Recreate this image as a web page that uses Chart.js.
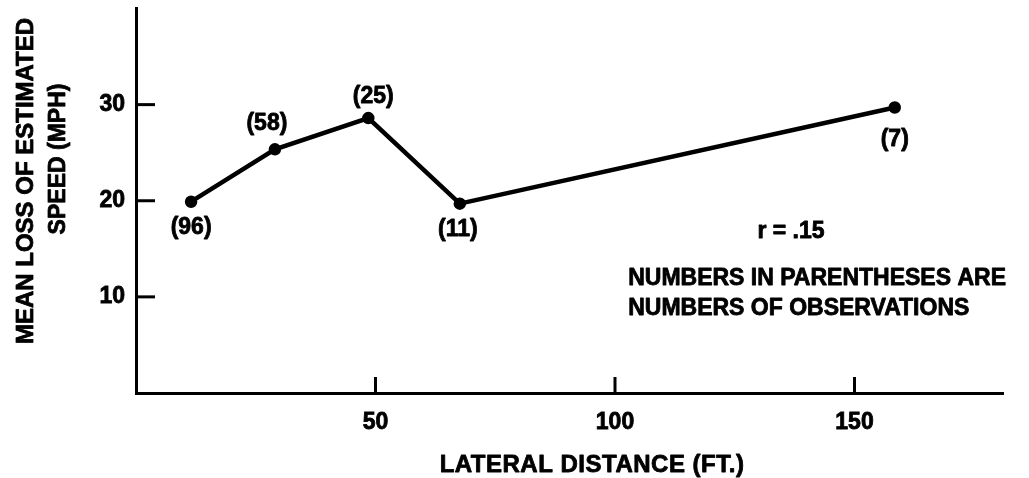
<!DOCTYPE html>
<html>
<head>
<meta charset="utf-8">
<script src="https://cdn.jsdelivr.net/npm/chart.js@4/dist/chart.umd.min.js"></script>
<style>
  html, body { margin: 0; padding: 0; background: #fff; }
  #wrap { width: 1029px; height: 478px; position: relative; }
</style>
</head>
<body>
<div id="wrap"><canvas id="c" width="1029" height="478"></canvas></div>
<script>
// Lateral distance (ft.) of each observation group
const lateralDistance = [11.5, 29, 48.5, 67.6, 158.4];
// Mean loss of estimated speed (mph)
const meanSpeedLoss = [19.9, 25.35, 28.6, 19.7, 29.7];
// Number of observations behind each mean
const obsCounts = [96, 58, 25, 11, 7];
// Axis tick values
const xTickValues = [50, 100, 150];
const yTickValues = [10, 20, 30];

const FONT = '"Liberation Sans", Arial, Helvetica, sans-serif';
const INK = '#000';
const TEXT_STROKE = 0.8;

// where each "(n)" label sits relative to its point
const labelPlacement = [
  { dx: 0, dy: 26 },
  { dx: -8, dy: -26 },
  { dx: 5, dy: -21 },
  { dx: -2, dy: 26 },
  { dx: 0, dy: 32 }
];

// filled text with a thin outline for a heavier weight
function heavyText(ctx, str, x, y) {
  ctx.fillText(str, x, y);
  ctx.lineWidth = TEXT_STROKE;
  ctx.strokeText(str, x, y);
}

const annotate = {
  id: 'annotate',
  afterDraw(chart) {
    const ctx = chart.ctx;
    const xs = chart.scales.x, ys = chart.scales.y;
    const area = chart.chartArea;
    ctx.save();
    ctx.strokeStyle = INK;
    ctx.fillStyle = INK;
    ctx.lineJoin = 'round';

    // inward tick marks
    ctx.lineWidth = 3;
    yTickValues.forEach(v => {
      const py = ys.getPixelForValue(v);
      ctx.beginPath();
      ctx.moveTo(area.left, py);
      ctx.lineTo(area.left + 19, py);
      ctx.stroke();
    });
    xTickValues.forEach(v => {
      const px = xs.getPixelForValue(v);
      ctx.beginPath();
      ctx.moveTo(px, area.bottom);
      ctx.lineTo(px, area.bottom - 16);
      ctx.stroke();
    });

    // observation counts
    ctx.font = 'bold 23px ' + FONT;
    ctx.textAlign = 'center';
    ctx.textBaseline = 'middle';
    const pts = chart.getDatasetMeta(0).data;
    pts.forEach((p, i) => {
      const pl = labelPlacement[i];
      heavyText(ctx, '(' + obsCounts[i] + ')', p.x + pl.dx, p.y + pl.dy);
    });

    // correlation and note
    heavyText(ctx, 'r = .15', 791, 232);
    const note1 = 'NUMBERS IN PARENTHESES ARE';
    const note2 = 'NUMBERS OF OBSERVATIONS';
    const noteLeft = 1006 - ctx.measureText(note1).width;
    ctx.textAlign = 'left';
    heavyText(ctx, note1, noteLeft, 279);
    heavyText(ctx, note2, noteLeft, 309);

    // axis titles
    ctx.font = 'bold 24px ' + FONT;
    ctx.textAlign = 'center';
    ctx.letterSpacing = '0.5px';
    heavyText(ctx, 'LATERAL DISTANCE (FT.)', 592, 465);
    ctx.letterSpacing = '0px';
    ctx.save();
    ctx.translate(26, 181);
    ctx.rotate(-Math.PI / 2);
    heavyText(ctx, 'MEAN LOSS OF ESTIMATED', 0, 0);
    ctx.restore();
    ctx.save();
    ctx.font = 'bold 23px ' + FONT;
    ctx.translate(59, 159);
    ctx.rotate(-Math.PI / 2);
    heavyText(ctx, 'SPEED (MPH)', 0, 0);
    ctx.restore();

    ctx.restore();
  }
};

new Chart(document.getElementById('c'), {
  type: 'scatter',
  data: {
    datasets: [{
      data: lateralDistance.map((x, i) => ({ x, y: meanSpeedLoss[i] })),
      showLine: true,
      borderColor: INK,
      backgroundColor: INK,
      borderWidth: 4.5,
      pointRadius: 4,
      pointHoverRadius: 4,
      tension: 0
    }]
  },
  options: {
    responsive: false,
    animation: false,
    devicePixelRatio: 1,
    layout: { padding: { top: 8, right: 26, left: 0, bottom: 0 } },
    plugins: { legend: { display: false }, tooltip: { enabled: false } },
    scales: {
      x: {
        type: 'linear',
        min: 0,
        max: 181,
        afterBuildTicks: s => { s.ticks = xTickValues.map(v => ({ value: v })); },
        afterFit: s => { s.height = 85; s.paddingLeft = 0; s.paddingRight = 0; },
        grid: { display: false, drawTicks: false },
        border: { display: true, color: INK, width: 3 },
        ticks: {
          color: INK,
          padding: 16,
          textStrokeColor: INK,
          textStrokeWidth: TEXT_STROKE,
          font: { family: FONT, size: 23, weight: 'bold' }
        }
      },
      y: {
        type: 'linear',
        min: 0,
        max: 40,
        afterBuildTicks: s => { s.ticks = yTickValues.map(v => ({ value: v })); },
        afterFit: s => { s.width = 136; s.paddingTop = 0; s.paddingBottom = 0; },
        grid: { display: false, drawTicks: false },
        border: { display: true, color: INK, width: 3 },
        ticks: {
          color: INK,
          padding: 11,
          textStrokeColor: INK,
          textStrokeWidth: TEXT_STROKE,
          font: { family: FONT, size: 23, weight: 'bold' }
        }
      }
    }
  },
  plugins: [annotate]
});
</script>
</body>
</html>
